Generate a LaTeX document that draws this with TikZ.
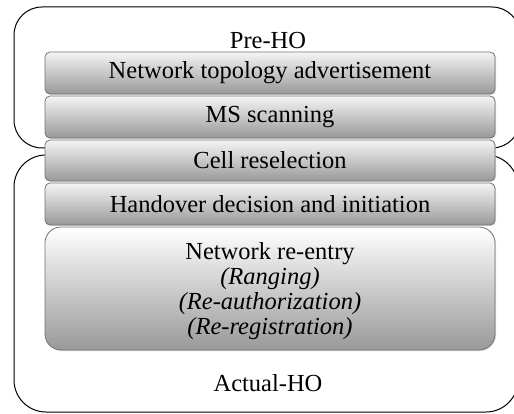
\documentclass[tikz,border=0pt]{standalone}
\usepackage{fontspec}
\setmainfont{Liberation Serif}
\usetikzlibrary{shadows}
\begin{document}
\begin{tikzpicture}[x=1pt,y=-1pt,
  phase/.style={draw=black,line width=1pt,rounded corners=28pt},
  stage/.style={draw=gray!90!black,line width=0.8pt,rounded corners=5pt,
    top color=gray!8,bottom color=gray!80,
    drop shadow={shadow xshift=1pt,shadow yshift=-1pt,fill=gray!50,opacity=0.6}},
  caption/.style={font=\fontsize{24.5}{25}\selectfont}]
\useasboundingbox (0,0) rectangle (514,414);
\clip (0,0) rectangle (514,414);
% the two phase outlines
\draw[phase] (14,7) rectangle (520,148);
\draw[phase,rounded corners=32pt] (14,155) rectangle (518,412);
\node[caption] (pre) at (268,41) {Pre-HO};
\node[caption] (act) at (268,383) {Actual-HO};
% stacked stages
\path[stage] (45,52) rectangle (495,94) node[midway,caption] (s1) {Network topology advertisement};
\path[stage] (45,96) rectangle (495,138) node[midway,caption] (s2) {MS scanning};
\path[stage] (45,140) rectangle (495,181) node[midway,caption] (s3) {Cell reselection};
\path[stage] (45,183) rectangle (495,225) node[midway,caption] (s4) {Handover decision and initiation};
\path[stage,rounded corners=16pt,top color=white,bottom color=gray!80] (45,227) rectangle (495,350);
\node[caption,align=center] (s5) at (270,291) {Network re-entry\\\textit{(Ranging)}\\\textit{(Re-authorization)}\\\textit{(Re-registration)}};
\end{tikzpicture}
\end{document}
